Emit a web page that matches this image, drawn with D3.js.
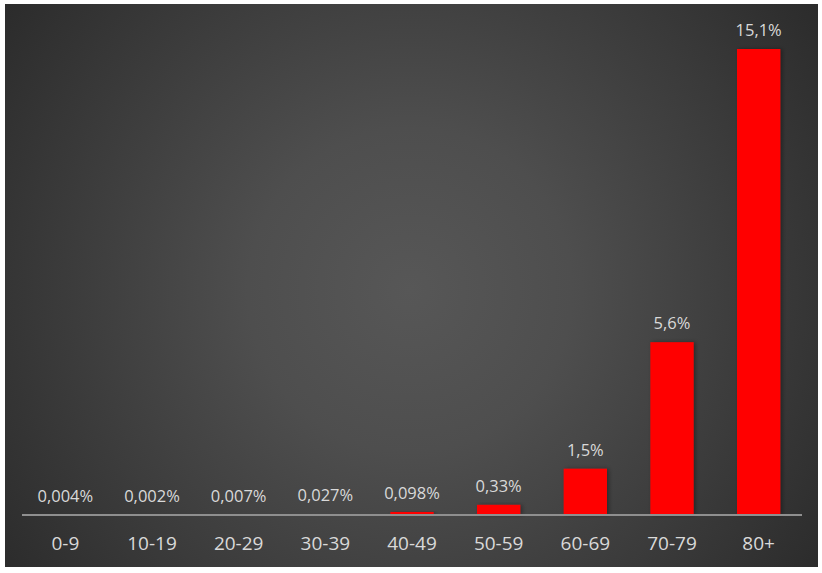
<!DOCTYPE html>
<html><head><meta charset="utf-8">
<script src="https://cdn.jsdelivr.net/npm/d3@7"></script>
<style>html,body{margin:0;padding:0;background:#fff;}svg{display:block;}</style>
</head><body>
<script>
const categories = ["0-9","10-19","20-29","30-39","40-49","50-59","60-69","70-79","80+"];
const values = [0.004,0.002,0.007,0.027,0.098,0.33,1.5,5.6,15.1];
const valueLabels = ["0,004%","0,002%","0,007%","0,027%","0,098%","0,33%","1,5%","5,6%","15,1%"];

const W = 822, H = 573;
const svg = d3.select("body").append("svg").attr("width", W).attr("height", H);
const defs = svg.append("defs");
const rg = defs.append("radialGradient").attr("id","bg")
  .attr("gradientUnits","userSpaceOnUse").attr("cx",410).attr("cy",290).attr("r",540);
rg.append("stop").attr("offset","0").attr("stop-color","#575757");
rg.append("stop").attr("offset","0.3").attr("stop-color","#4e4e4e");
rg.append("stop").attr("offset","1").attr("stop-color","#272727");
const f = defs.append("filter").attr("id","sh").attr("x","-20%").attr("y","-20%").attr("width","150%").attr("height","150%");
f.append("feDropShadow").attr("dx",2).attr("dy",0).attr("stdDeviation",2).attr("flood-color","#000").attr("flood-opacity",0.35);

svg.append("rect").attr("x",5).attr("y",4).attr("width",813).attr("height",563).attr("fill","url(#bg)");

const x0 = 22, x1 = 802, base = 515;
const x = d3.scaleBand().domain(categories).range([x0, x1]).paddingInner(0.5).paddingOuter(0.25);
const y = d3.scaleLinear().domain([0, 16]).range([base, base - 466*16/15.1]);

const data = categories.map((c,i)=>({c, v: values[i], l: valueLabels[i]}));

svg.append("g").selectAll("rect").data(data).join("rect")
  .attr("x", d=>x(d.c)).attr("width", x.bandwidth())
  .attr("y", d=>y(d.v)).attr("height", d=>base - y(d.v))
  .attr("fill","#ff0000").attr("filter","url(#sh)");

const ax = svg.append("g").attr("transform",`translate(0,${base})`)
  .call(d3.axisBottom(x).tickSize(0).tickPadding(22));
ax.select(".domain").attr("stroke","#8f8f8f").attr("stroke-width",2).attr("d",`M${x0},0H${x1}`);
ax.selectAll("text").attr("fill","#d9d9d9").attr("font-size","19px")
  .attr("font-family","'Open Sans', 'Noto Sans', sans-serif");

svg.append("g").selectAll("text").data(data).join("text")
  .attr("x", d=>x(d.c)+x.bandwidth()/2).attr("y", d=>y(d.v)-13)
  .attr("text-anchor","middle").attr("fill","#d9d9d9").attr("font-size","16.5px")
  .attr("font-family","'Open Sans', 'Noto Sans', sans-serif")
  .text(d=>d.l);
</script>
</body></html>
